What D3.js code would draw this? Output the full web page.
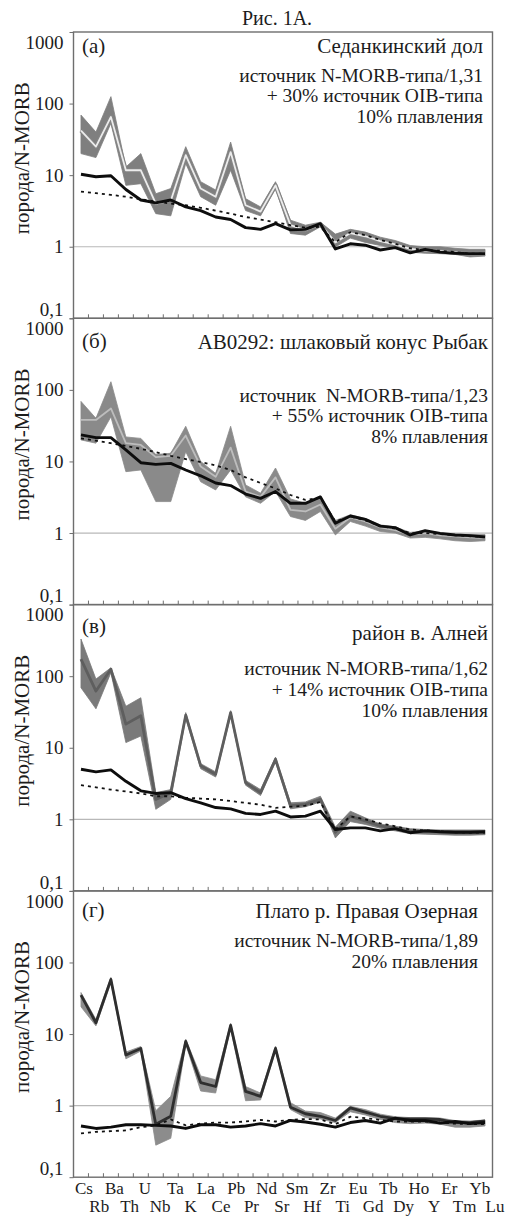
<!DOCTYPE html>
<html>
<head>
<meta charset="utf-8">
<script src="https://cdn.jsdelivr.net/npm/d3@7"></script>
<style>
  body { margin: 0; background: #fff; }
  svg { display: block; font-family: "Liberation Serif", "DejaVu Serif", serif; }
</style>
</head>
<body>
<svg id="chart" width="507" height="1216"></svg>
<script>
// elements, in spider-diagram order
const elements = ["Cs", "Rb", "Ba", "Th", "U", "Nb", "Ta", "K", "La", "Ce", "Pb", "Pr", "Nd", "Sr",
  "Sm", "Hf", "Zr", "Ti", "Eu", "Gd", "Tb", "Dy", "Ho", "Y", "Er", "Tm", "Yb", "Lu"];

const yTicks = [1000, 100, 10, 1, 0.1];
const yTickLabels = ["1000", "100", "10", "1", "0,1"];

const panelTags = ["(а)", "(б)", "(в)", "(г)"];
const panelTitles = ["Седанкинский дол", "AB0292: шлаковый конус Рыбак", "район в. Алней", "Плато р. Правая Озерная"];
const panelNotes = [
  ["источник N-MORB-типа/1,31", "+ 30% источник OIB-типа", "10% плавления"],
  ["источник  N-MORB-типа/1,23", "+ 55% источник OIB-типа", "8% плавления"],
  ["источник N-MORB-типа/1,62", "+ 14% источник OIB-типа", "10% плавления"],
  ["источник N-MORB-типа/1,89", "20% плавления"]
];

// (а) Седанкинский дол
const rangeHiA = [69, 40, 125, 13, 20, 5.5, 6.5, 25, 8.1, 6.2, 29, 4.7, 3.6, 8.1, 2.35, 2.0, 2.2, 1.5, 1.75, 1.6, 1.36, 1.22, 1.04, 1.0, 1.0, 0.95, 0.92, 0.92];
const rangeLoA = [20, 17.6, 53, 7.2, 7.6, 2.9, 2.7, 14.5, 5.0, 3.8, 11.7, 3.2, 2.7, 6.5, 1.53, 1.45, 1.9, 0.99, 1.32, 1.15, 1.04, 0.95, 0.84, 0.81, 0.8, 0.78, 0.72, 0.74];
const modelA = [42, 25, 65, 11.7, 11.7, 4.0, 4.4, 19, 6.5, 5.0, 21, 3.8, 3.1, 7.2, 2.0, 1.7, 2.05, 1.15, 1.55, 1.4, 1.2, 1.08, 0.93, 0.89, 0.87, 0.83, 0.8, 0.8];
const solidA = [10.3, 9.5, 9.8, 6.3, 4.5, 4.1, 4.5, 3.6, 3.2, 2.6, 2.4, 1.85, 1.75, 2.1, 1.72, 1.75, 2.1, 0.93, 1.1, 1.05, 0.9, 0.97, 0.82, 0.92, 0.84, 0.81, 0.8, 0.8];
const dottedA = [5.9, 5.6, 5.3, 5.0, 4.6, 4.3, 4.0, 3.8, 3.5, 3.2, 2.9, 2.6, 2.4, 2.2, 2.0, 1.85, 1.9, 1.15, 1.6, 1.45, 1.25, 1.1, 0.95, 0.9, 0.88, 0.84, 0.8, 0.8];

// (б) AB0292
const rangeHiB = [69, 40, 130, 22, 21, 12.5, 13, 31, 10, 6.8, 31, 4.7, 3.6, 8.1, 3.0, 2.6, 3.3, 1.5, 1.8, 1.6, 1.3, 1.22, 1.02, 1.08, 1.0, 0.96, 0.95, 0.95];
const rangeLoB = [20, 18, 42, 7.2, 7.6, 2.75, 2.75, 13.7, 5.2, 4.0, 7.6, 3.2, 2.6, 3.8, 1.7, 1.5, 2.0, 0.94, 1.45, 1.25, 1.05, 1.0, 0.85, 0.87, 0.83, 0.78, 0.76, 0.78];
const modelB = [38, 38, 55, 18, 17, 11.5, 12, 23, 8.5, 6.1, 15.6, 3.8, 3.2, 6.0, 2.1, 2.0, 2.5, 1.15, 1.65, 1.45, 1.2, 1.1, 0.95, 1.0, 0.93, 0.9, 0.87, 0.85];
const solidB = [23.5, 21.5, 21.5, 14.5, 9.6, 9.1, 9.4, 7.6, 6.3, 5.0, 4.6, 3.5, 3.05, 3.8, 2.6, 2.6, 3.2, 1.37, 1.73, 1.55, 1.25, 1.19, 0.94, 1.08, 0.99, 0.94, 0.92, 0.88];
const dottedB = [21, 19.5, 18, 16.5, 15, 13.5, 12, 10.8, 9.8, 8.8, 7.6, 6.0, 5.0, 4.2, 3.4, 2.9, 3.1, 1.45, 1.7, 1.5, 1.25, 1.15, 1.0, 1.0, 0.97, 0.93, 0.9, 0.88];

// (в) район в. Алней
const rangeHiC = [330, 91, 131, 38, 50, 2.36, 2.6, 31, 6.0, 4.6, 33, 3.5, 2.6, 7.4, 1.7, 1.75, 2.1, 0.78, 1.3, 1.05, 0.86, 0.8, 0.74, 0.72, 0.71, 0.71, 0.71, 0.71];
const rangeLoC = [69, 35, 112, 11.8, 14.6, 1.38, 1.9, 26, 5.1, 3.9, 28, 3.0, 2.15, 6.3, 1.4, 1.5, 1.75, 0.55, 0.93, 0.85, 0.75, 0.69, 0.63, 0.62, 0.61, 0.6, 0.6, 0.61];
const modelC = [173, 62, 125, 21.4, 28, 1.9, 2.36, 28.5, 5.6, 4.27, 31, 3.26, 2.36, 6.9, 1.55, 1.62, 1.9, 0.66, 1.1, 0.95, 0.81, 0.75, 0.69, 0.68, 0.67, 0.66, 0.66, 0.66];
const solidC = [5.0, 4.6, 4.9, 3.4, 2.5, 2.3, 2.36, 1.95, 1.7, 1.46, 1.4, 1.21, 1.17, 1.3, 1.08, 1.11, 1.3, 0.72, 0.76, 0.76, 0.69, 0.74, 0.65, 0.69, 0.67, 0.66, 0.66, 0.67];
const dottedC = [3.0, 2.8, 2.6, 2.45, 2.3, 2.1, 2.1, 2.0, 1.95, 1.9, 1.8, 1.7, 1.6, 1.45, 1.5, 1.55, 1.75, 0.72, 1.1, 1.0, 0.88, 0.8, 0.72, 0.7, 0.68, 0.66, 0.65, 0.65];

// (г) Плато р. Правая Озерная
const rangeHiD = [38, 16, 62, 5.6, 6.7, 0.85, 1.35, 8.5, 2.6, 2.3, 14.2, 1.85, 1.5, 6.8, 1.1, 0.84, 0.8, 0.67, 0.98, 0.88, 0.76, 0.7, 0.68, 0.68, 0.67, 0.62, 0.61, 0.63];
const rangeLoD = [24, 13, 52, 4.5, 5.8, 0.28, 0.35, 7.2, 1.6, 1.5, 12, 1.17, 1.2, 5.8, 0.88, 0.68, 0.65, 0.58, 0.82, 0.74, 0.64, 0.58, 0.56, 0.57, 0.55, 0.5, 0.5, 0.52];
const modelD = [35, 14.4, 58, 5.1, 6.3, 0.55, 0.71, 7.9, 2.1, 1.85, 13.2, 1.58, 1.35, 6.3, 0.95, 0.77, 0.71, 0.62, 0.93, 0.81, 0.71, 0.66, 0.65, 0.65, 0.64, 0.58, 0.58, 0.61];
const solidD = [0.52, 0.48, 0.5, 0.54, 0.54, 0.53, 0.52, 0.48, 0.54, 0.54, 0.5, 0.52, 0.56, 0.52, 0.62, 0.59, 0.55, 0.5, 0.58, 0.62, 0.57, 0.67, 0.62, 0.62, 0.57, 0.6, 0.56, 0.58];
const dottedD = [0.41, 0.43, 0.44, 0.45, 0.5, 0.53, 0.64, 0.53, 0.56, 0.58, 0.58, 0.6, 0.63, 0.6, 0.63, 0.65, 0.64, 0.55, 0.7, 0.67, 0.63, 0.6, 0.6, 0.6, 0.58, 0.56, 0.55, 0.55];

const panels = [
  { hi: rangeHiA, lo: rangeLoA, model: modelA, solid: solidA, dotted: dottedA, fill: "#7f7f7f", casing: "#858585", core: "#ececec", noteTop: [50, 70, 91], titleY: 21, tagY: 21, right: 483 },
  { hi: rangeHiB, lo: rangeLoB, model: modelB, solid: solidB, dotted: dottedB, fill: "#8a8a8a", casing: "#8a8a8a", core: "#bdbdbd", noteTop: [84, 104, 125], titleY: 31, tagY: 30, right: 488 },
  { hi: rangeHiC, lo: rangeLoC, model: modelC, solid: solidC, dotted: dottedC, fill: "#7a7a7a", casing: null, core: "#5e5e5e", noteTop: [70, 91, 112], titleY: 35, tagY: 28, right: 488 },
  { hi: rangeHiD, lo: rangeLoD, model: modelD, solid: solidD, dotted: dottedD, fill: "#8c8c8c", casing: null, core: "#2e2e2e", noteTop: [56, 77], titleY: 27, tagY: 26, right: 478 }
];

const svg = d3.select("#chart");
const left = 73.5, right = 492.5, top0 = 32, panelH = 286.3;
const textColor = "#1c1c1c", frameColor = "#6e6e6e";

const x = d3.scaleBand().domain(elements).range([left, right]);
const cx = (el) => x(el) + x.bandwidth() / 2;
const xLabel = d3.scalePoint().domain(elements).range([84, 495]);

svg.append("text")
  .attr("x", 277).attr("y", 25)
  .attr("text-anchor", "middle")
  .attr("font-size", 20)
  .attr("fill", textColor)
  .text("Рис. 1А.");

panels.forEach((p, pi) => {
  const top = top0 + pi * panelH;
  const y = d3.scaleLog().domain([0.1, 1000]).range([top + panelH, top]);
  const g = svg.append("g");
  const rows = elements.map((el, i) => ({
    el: el, hi: p.hi[i], lo: p.lo[i], model: p.model[i], solid: p.solid[i], dotted: p.dotted[i]
  }));

  // reference line at 1
  g.append("line")
    .attr("x1", left).attr("x2", right)
    .attr("y1", y(1)).attr("y2", y(1))
    .attr("stroke", "#b8b8b8").attr("stroke-width", 1.2);

  const area = d3.area()
    .x((d) => cx(d.el))
    .y0((d) => y(d.lo))
    .y1((d) => y(d.hi));
  g.append("path").datum(rows)
    .attr("d", area)
    .attr("fill", p.fill)
    .attr("stroke", p.fill).attr("stroke-width", 0.8);

  const lineOf = (key) => d3.line().x((d) => cx(d.el)).y((d) => y(d[key]));

  if (p.casing) {
    g.append("path").datum(rows)
      .attr("d", lineOf("model"))
      .attr("fill", "none").attr("stroke", p.casing).attr("stroke-width", 4.2)
      .attr("stroke-linejoin", "round");
  }
  g.append("path").datum(rows)
    .attr("d", lineOf("model"))
    .attr("fill", "none").attr("stroke", p.core)
    .attr("stroke-width", p.casing ? 1.8 : 2.8)
    .attr("stroke-linejoin", "round");

  g.append("path").datum(rows)
    .attr("d", lineOf("dotted"))
    .attr("fill", "none").attr("stroke", "#111")
    .attr("stroke-width", 1.8).attr("stroke-dasharray", "3,4");

  g.append("path").datum(rows)
    .attr("d", lineOf("solid"))
    .attr("fill", "none").attr("stroke", "#0d0d0d")
    .attr("stroke-width", 2.9).attr("stroke-linejoin", "round");

  // frame
  g.append("rect")
    .attr("x", left).attr("y", top)
    .attr("width", right - left).attr("height", panelH)
    .attr("fill", "none").attr("stroke", frameColor).attr("stroke-width", 1.4);

  // small category ticks along the bottom edge
  g.selectAll(".xt").data(elements.slice(1)).enter().append("line")
    .attr("x1", (d) => x(d)).attr("x2", (d) => x(d))
    .attr("y1", top + panelH).attr("y2", top + panelH - 4)
    .attr("stroke", frameColor).attr("stroke-width", 1);

  // y axis
  const yAxis = g.append("g")
    .attr("transform", `translate(${left},0)`)
    .call(d3.axisLeft(y).tickValues(yTicks).tickSize(4).tickSizeOuter(0)
      .tickFormat((d, i) => yTickLabels[i]));
  yAxis.select(".domain").remove();
  yAxis.selectAll("line").attr("stroke", frameColor);
  yAxis.selectAll("text")
    .attr("font-family", "Liberation Serif, serif")
    .attr("font-size", 19)
    .attr("fill", textColor)
    .attr("x", -10)
    .attr("dy", (d) => (d === 1000 ? "0.85em" : d === 0.1 ? "-0.15em" : "0.32em"));

  g.append("text")
    .attr("transform", `translate(29,${top + panelH / 2 - 17}) rotate(-90)`)
    .attr("text-anchor", "middle")
    .attr("font-size", 21)
    .attr("fill", textColor)
    .text("порода/N-MORB");

  g.append("text")
    .attr("x", 82).attr("y", top + p.tagY)
    .attr("font-size", 21).attr("fill", textColor)
    .text(panelTags[pi]);

  g.append("text")
    .attr("x", p.right).attr("y", top + p.titleY)
    .attr("text-anchor", "end")
    .attr("font-size", 21).attr("fill", textColor)
    .text(panelTitles[pi]);

  g.selectAll(".note").data(panelNotes[pi]).enter().append("text")
    .attr("x", p.right)
    .attr("y", (d, i) => top + p.noteTop[i])
    .attr("text-anchor", "end")
    .attr("font-size", 19.5).attr("fill", textColor)
    .style("white-space", "pre")
    .text((d) => d);
});

// element labels in two staggered rows
svg.append("g").selectAll("text").data(elements).enter().append("text")
  .attr("x", (d) => xLabel(d))
  .attr("y", (d, i) => (i % 2 === 0 ? 1194 : 1212))
  .attr("text-anchor", "middle")
  .attr("font-size", 17)
  .attr("fill", textColor)
  .text((d) => d);
</script>
</body>
</html>
